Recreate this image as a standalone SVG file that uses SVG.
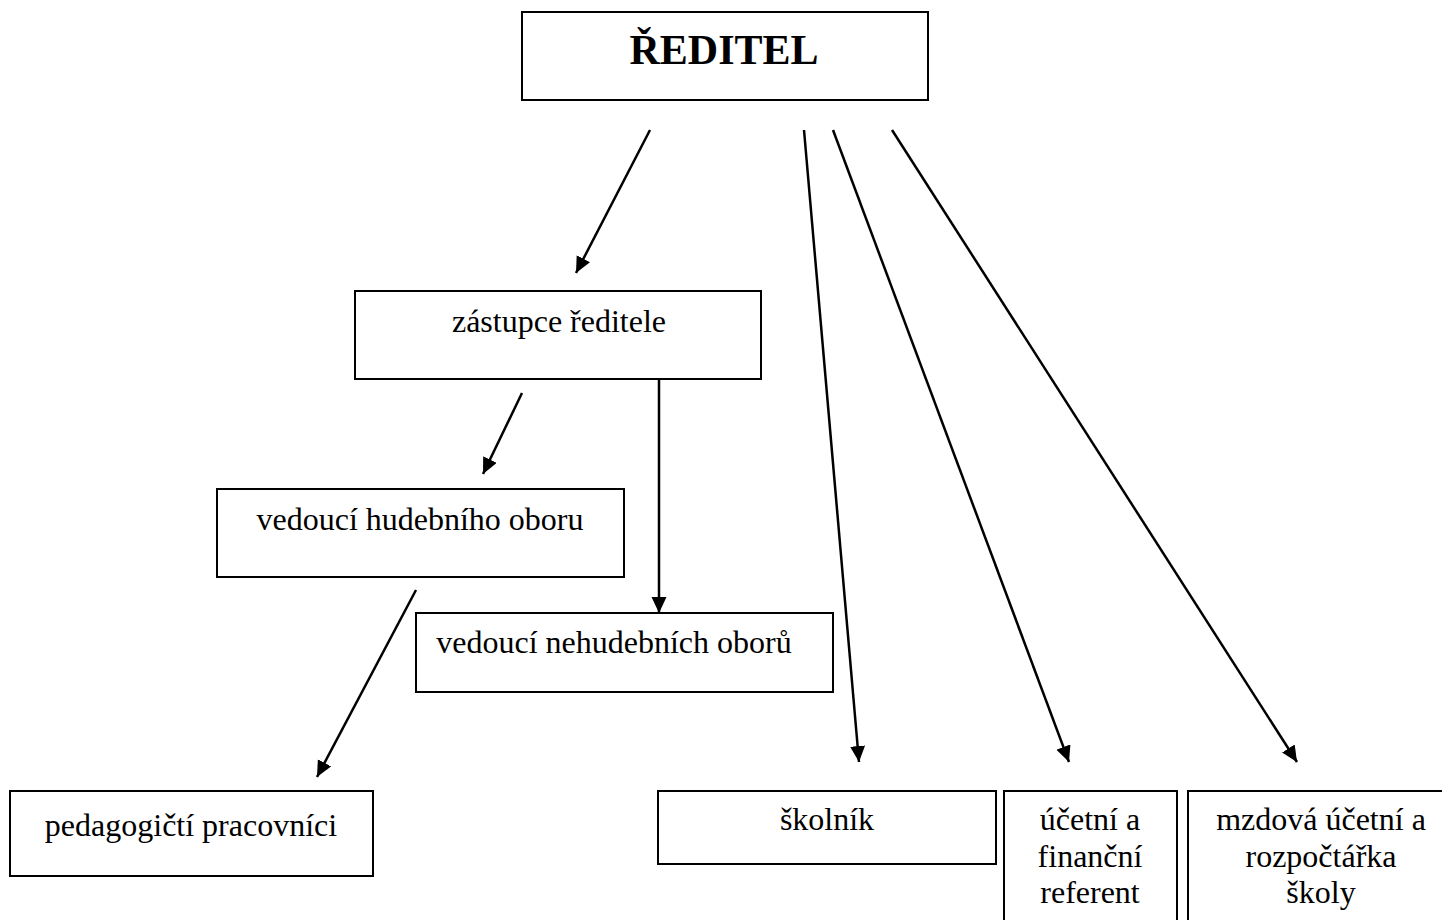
<svg xmlns="http://www.w3.org/2000/svg" width="1442" height="920" viewBox="0 0 1442 920">
<style>
.box{fill:#fff;stroke:#000;stroke-width:2}
.t{font-family:"Liberation Serif","Times New Roman",serif;font-size:32px;fill:#000;text-anchor:middle}
.title{font-family:"Liberation Serif","Times New Roman",serif;font-size:42px;font-weight:bold;fill:#000;text-anchor:middle}
.c{stroke:#000;stroke-width:2.5;fill:none;marker-end:url(#ah)}
</style>
<defs>
<marker id="ah" markerUnits="userSpaceOnUse" markerWidth="18" markerHeight="16" refX="16" refY="7.5" orient="auto">
<path d="M0,0 L16,7.5 L0,15 z" fill="#000"/>
</marker>
</defs>
<rect width="1442" height="920" fill="#fff"/>
<g id="n-reditel"><rect class="box" x="522" y="12" width="406" height="88"/><text class="title" x="724" y="64">ŘEDITEL</text></g>
<g id="n-zastupce"><rect class="box" x="355" y="291" width="406" height="88"/><text class="t" x="559" y="332">zástupce ředitele</text></g>
<g id="n-hudebni"><rect class="box" x="217" y="489" width="407" height="88"/><text class="t" x="420" y="530">vedoucí hudebního oboru</text></g>
<g id="n-nehudebni"><rect class="box" x="416" y="613" width="417" height="79"/><text class="t" x="614" y="653">vedoucí nehudebních oborů</text></g>
<g id="n-pedagogicti"><rect class="box" x="10" y="791" width="363" height="85"/><text class="t" x="191" y="836">pedagogičtí pracovníci</text></g>
<g id="n-skolnik"><rect class="box" x="658" y="791" width="338" height="73"/><text class="t" x="827" y="830">školník</text></g>
<g id="n-ucetni"><rect class="box" x="1004" y="791" width="173" height="140"/><text class="t" x="1090" y="830">účetní a</text><text class="t" x="1090" y="867">finanční</text><text class="t" x="1090" y="903">referent</text></g>
<g id="n-mzdova"><rect class="box" x="1188" y="791" width="270" height="140"/><text class="t" x="1321" y="830">mzdová účetní a</text><text class="t" x="1321" y="867">rozpočtářka</text><text class="t" x="1321" y="903">školy</text></g>
<g id="connectors">
<line class="c" x1="650" y1="130" x2="576" y2="273"/>
<line class="c" x1="522" y1="393" x2="483" y2="474"/>
<line class="c" x1="659" y1="379" x2="659" y2="613"/>
<line class="c" x1="416" y1="590" x2="317" y2="777"/>
<line class="c" x1="804" y1="130" x2="859" y2="762"/>
<line class="c" x1="833" y1="130" x2="1069" y2="762"/>
<line class="c" x1="892" y1="130" x2="1297" y2="762"/>
</g>
</svg>
